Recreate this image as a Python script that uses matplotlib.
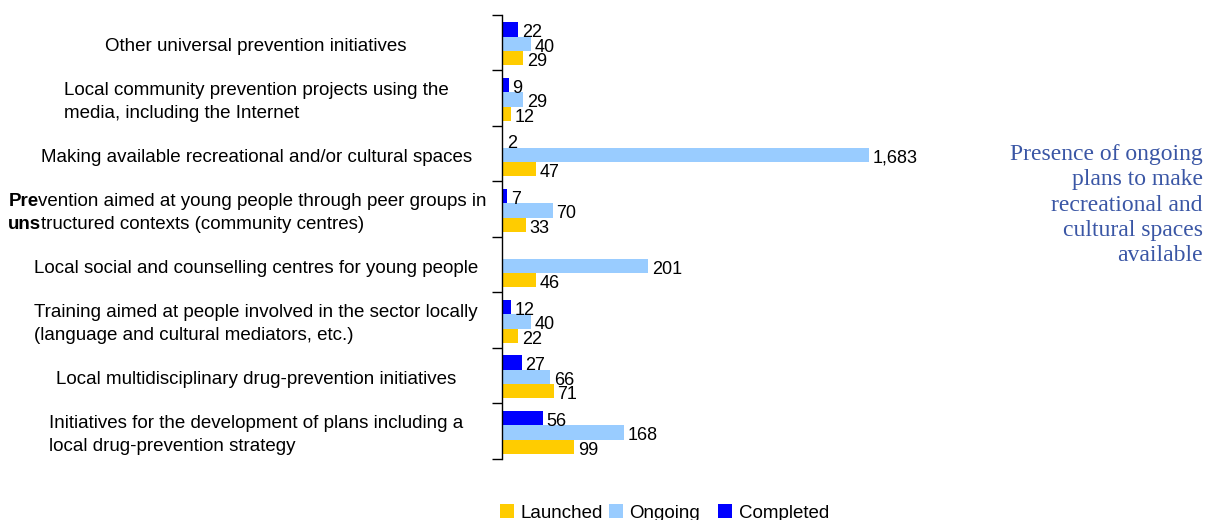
import numpy as np
import matplotlib.pyplot as plt
from matplotlib.patches import Patch

plt.rcParams["font.family"] = ["Liberation Sans", "DejaVu Sans"]

# ------------------------------------------------------------
# data (top to bottom)
# ------------------------------------------------------------
categories = [
    "Other universal prevention initiatives",
    "Local community prevention projects using the\nmedia, including the Internet",
    "Making available recreational and/or cultural spaces",
    "Prevention aimed at young people through peer groups in\nunstructured contexts (community centres)",
    "Local social and counselling centres for young people",
    "Training aimed at people involved in the sector locally\n(language and cultural mediators, etc.)",
    "Local multidisciplinary drug-prevention initiatives",
    "Initiatives for the development of plans including a\nlocal drug-prevention strategy",
]
completed = [22, 9, 2, 7, 0, 12, 27, 56]
ongoing = [40, 29, 1683, 70, 201, 40, 66, 168]
launched = [29, 12, 47, 33, 46, 22, 71, 99]

series_names = ["Launched", "Ongoing", "Completed"]
colors = {"Completed": "#0000FF", "Ongoing": "#99CCFF", "Launched": "#FFCC00"}

note = "Presence of ongoing\nplans to make\nrecreational and\ncultural spaces\navailable"

FS = 13.5
W, H = 1205, 520

# ------------------------------------------------------------
# figure
# ------------------------------------------------------------
fig = plt.figure(figsize=(W / 100, H / 100), dpi=100)
ax = fig.add_axes([0.4166, 0.1173, 0.3046, 0.854])

y = np.arange(len(categories)) + 0.02
h = 0.26
xmax = 504

groups = [("Completed", completed, -h), ("Ongoing", ongoing, 0.0), ("Launched", launched, h)]
for name, vals, off in groups:
    bars = ax.barh(y + off, vals, height=h, color=colors[name], clip_on=True)
    for rect, v in zip(bars, vals):
        if v == 0:
            continue
        xend = min(v, xmax)
        ax.text(xend + 5, rect.get_y() + rect.get_height() / 2 + 0.06, f"{v:,}",
                ha="left", va="center", fontsize=13, color="black")

ax.set_xlim(0, xmax)
ax.set_ylim(len(categories) - 0.5, -0.5)

for s in ["top", "right", "bottom"]:
    ax.spines[s].set_visible(False)
ax.spines["left"].set_linewidth(1.0)
ax.set_xticks([])
ax.set_yticks(np.arange(len(categories) + 1) - 0.5)
ax.set_yticklabels([])
ax.tick_params(axis="y", length=7, width=1.0, direction="out")

# category labels
ytrans = ax.get_yaxis_transform()
half_line = 0.205  # half of the line pitch, in category units
shift = 0.07
for i, lab in enumerate(categories):
    if not lab.startswith("Prevention aimed"):
        ax.text(-0.67, i + shift, lab, transform=ytrans, ha="center", va="center",
                multialignment="left", fontsize=FS, linespacing=1.45)
        continue
    # this label has the first letters of each line printed in bold
    for k, line in enumerate(lab.split("\n")):
        yy = i + shift + (2 * k - 1) * half_line
        b = ax.text(-1.345, yy, line[:3], transform=ytrans, ha="left", va="center",
                    fontsize=FS, fontweight="bold")
        ax.annotate(line[3:], xy=(1, 0), xycoords=b, ha="left", va="bottom",
                    fontsize=FS)

# side note
fig.text(0.998, 1 - 144 / H, note, ha="right", va="top", fontsize=17,
         family=["Liberation Serif", "DejaVu Serif"], color="#3A56A5",
         linespacing=1.27, multialignment="right")

# legend: equal-width entries along the bottom edge
for k, n in enumerate(series_names):
    x0 = (500 + 109 * k) / W
    fig.legend([Patch(facecolor=colors[n], edgecolor="none")], [n], loc="center left",
               bbox_to_anchor=(x0, 1 - 513 / H), frameon=False, fontsize=FS,
               handlelength=0.75, handleheight=0.75, handletextpad=0.35,
               borderaxespad=0, borderpad=0)

fig.savefig("out.png", dpi=100)
